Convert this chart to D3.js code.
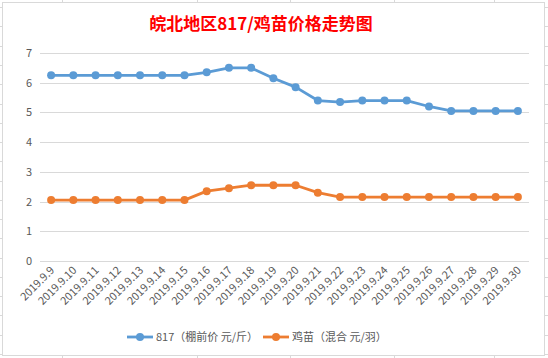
<!DOCTYPE html>
<html><head><meta charset="utf-8">
<script src="https://cdn.jsdelivr.net/npm/d3@7"></script>
<style>body{margin:0;background:#fff}svg{display:block}</style>
</head><body>
<svg id="c" width="548" height="358"></svg>
<script>
const categories = ["2019.9.9","2019.9.10","2019.9.11","2019.9.12","2019.9.13","2019.9.14","2019.9.15","2019.9.16","2019.9.17","2019.9.18","2019.9.19","2019.9.20","2019.9.21","2019.9.22","2019.9.23","2019.9.24","2019.9.25","2019.9.26","2019.9.27","2019.9.28","2019.9.29","2019.9.30"];
const seriesNames = ["817（棚前价 元/斤）","鸡苗（混合 元/羽）"];
const price817 = [6.25,6.25,6.25,6.25,6.25,6.25,6.25,6.35,6.5,6.5,6.15,5.85,5.4,5.35,5.4,5.4,5.4,5.2,5.05,5.05,5.05,5.05];
const priceChick = [2.05,2.05,2.05,2.05,2.05,2.05,2.05,2.35,2.45,2.55,2.55,2.55,2.3,2.15,2.15,2.15,2.15,2.15,2.15,2.15,2.15,2.15];
const yTicks = [0,1,2,3,4,5,6,7];
const title = "皖北地区817/鸡苗价格走势图";
const colors = ["#5b9bd5","#ed7d31"];

const svg = d3.select("#c");
const font = "'Microsoft YaHei','Noto Sans CJK SC',sans-serif";

// spreadsheet background slivers
const bg = svg.append("g").attr("stroke","#d9d9d9").attr("stroke-width",1);
[7,26,46,65,84,104,123,142,161,181,200,219,238,258,277,296,315,335,354].forEach(y=>{
  bg.append("line").attr("x1",0).attr("x2",3).attr("y1",y+0.5).attr("y2",y+0.5);
  bg.append("line").attr("x1",545).attr("x2",548).attr("y1",y+0.5).attr("y2",y+0.5);
});
[62,197,290,394,494].forEach(x=>{
  bg.append("line").attr("x1",x+0.5).attr("x2",x+0.5).attr("y1",0).attr("y2",2);
  bg.append("line").attr("x1",x+0.5).attr("x2",x+0.5).attr("y1",356).attr("y2",358);
});
svg.append("rect").attr("x",2.5).attr("y",2.5).attr("width",542).attr("height",353)
  .attr("fill","#fff").attr("stroke","#d9d9d9").attr("stroke-width",1);

const x = d3.scaleBand().domain(categories).range([40,529]);
const y = d3.scaleLinear().domain([0,7]).range([261,53]);

// gridlines
svg.append("g").selectAll("line").data(yTicks).join("line")
  .attr("x1",40).attr("x2",529)
  .attr("y1",d=>Math.round(y(d))+0.5).attr("y2",d=>Math.round(y(d))+0.5)
  .attr("stroke","#d9d9d9").attr("stroke-width",1);

// y labels
svg.append("g").selectAll("text").data(yTicks).join("text")
  .attr("x",32).attr("y",d=>y(d)+4).attr("text-anchor","end")
  .attr("font-family",font).attr("font-size",11).attr("fill","#595959").text(d=>d);

// x labels
const cx = d=>x(d)+x.bandwidth()/2;
svg.append("g").selectAll("text").data(categories).join("text")
  .attr("transform",d=>`translate(${cx(d)+4},${271}) rotate(-45)`)
  .attr("text-anchor","end")
  .attr("font-family",font).attr("font-size",11).attr("fill","#595959").text(d=>d);

// title
svg.append("text").attr("x",261).attr("y",30).attr("text-anchor","middle")
  .attr("font-family",font).attr("font-size",17).attr("font-weight","bold")
  .attr("fill","#ff0000").text(title);

// series
const line = d3.line().x((d,i)=>cx(categories[i])).y(d=>y(d));
[price817, priceChick].forEach((s,k)=>{
  const g = svg.append("g");
  g.append("path").datum(s).attr("d",line).attr("fill","none")
    .attr("stroke",colors[k]).attr("stroke-width",2.8).attr("stroke-linejoin","round");
  g.selectAll("circle").data(s).join("circle")
    .attr("cx",(d,i)=>cx(categories[i])).attr("cy",d=>y(d)).attr("r",4)
    .attr("fill",colors[k]);
});

// legend
const leg = [{x:127,name:seriesNames[0]},{x:263,name:seriesNames[1]}];
leg.forEach((l,k)=>{
  const g = svg.append("g");
  g.append("line").attr("x1",l.x).attr("x2",l.x+26).attr("y1",337).attr("y2",337)
    .attr("stroke",colors[k]).attr("stroke-width",2.8);
  g.append("circle").attr("cx",l.x+13).attr("cy",337).attr("r",4).attr("fill",colors[k]);
  g.append("text").attr("x",l.x+29).attr("y",341).attr("font-family",font)
    .attr("font-size",11).attr("fill","#595959").text(l.name);
});
</script>
</body></html>
